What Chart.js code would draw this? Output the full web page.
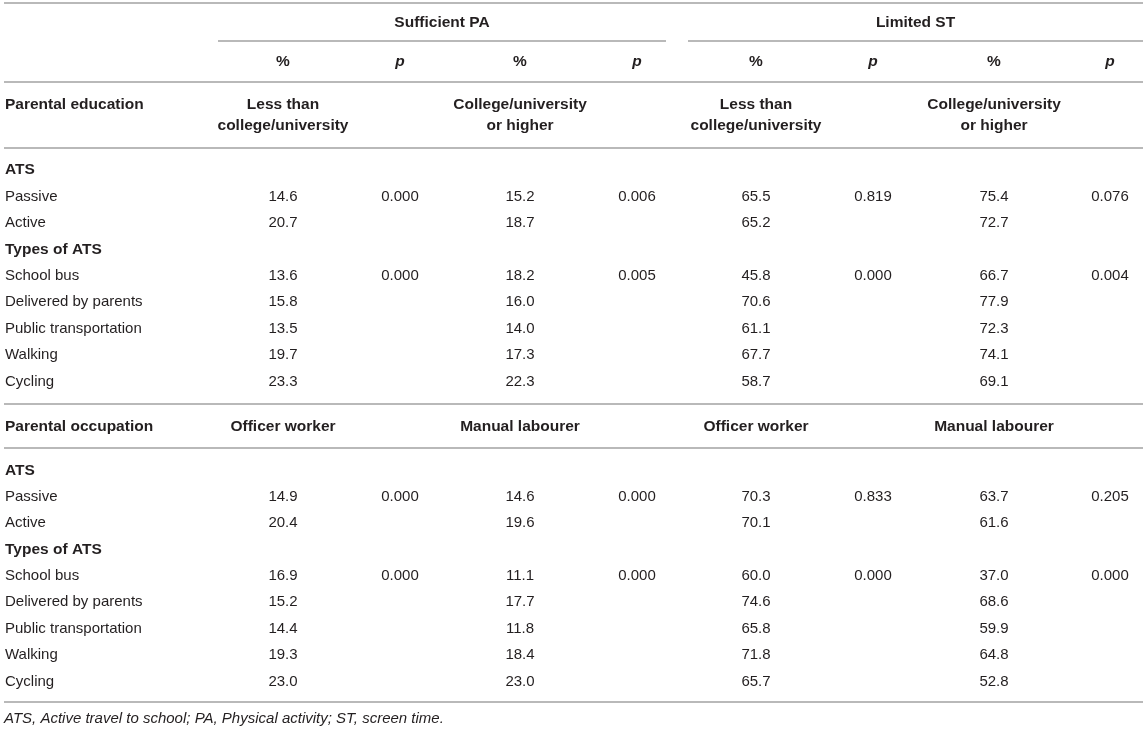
<!DOCTYPE html>
<html><head><meta charset="utf-8">
<script src="https://cdn.jsdelivr.net/npm/chart.js@4.4.1/dist/chart.umd.min.js"></script>
<style>html,body{margin:0;padding:0;background:#fff;overflow:hidden}#wrap{width:1146px;height:732px;position:relative}</style>
</head><body><div id="wrap"><canvas id="c"></canvas></div>
<script>
// ---------- DATA ----------
const outcomes = ['Sufficient PA', 'Limited ST'];
const colHeads = ['%', 'p', '%', 'p', '%', 'p', '%', 'p'];
const rowLabels = ['ATS', 'Passive', 'Active', 'Types of ATS', 'School bus', 'Delivered by parents', 'Public transportation', 'Walking', 'Cycling'];
const headingRows = ['ATS', 'Types of ATS'];
const sections = ['Parental education', 'Parental occupation'];
const eduGroups = ['Less than\ncollege/university', 'College/university\nor higher'];
const occGroups = ['Officer worker', 'Manual labourer'];
const footnote = 'ATS, Active travel to school; PA, Physical activity; ST, screen time.';

// Parental education
const paEduLow   = [null, 14.6, 20.7, null, 13.6, 15.8, 13.5, 19.7, 23.3];
const paEduLowP  = [null, 0.000, null, null, 0.000, null, null, null, null];
const paEduHigh  = [null, 15.2, 18.7, null, 18.2, 16.0, 14.0, 17.3, 22.3];
const paEduHighP = [null, 0.006, null, null, 0.005, null, null, null, null];
const stEduLow   = [null, 65.5, 65.2, null, 45.8, 70.6, 61.1, 67.7, 58.7];
const stEduLowP  = [null, 0.819, null, null, 0.000, null, null, null, null];
const stEduHigh  = [null, 75.4, 72.7, null, 66.7, 77.9, 72.3, 74.1, 69.1];
const stEduHighP = [null, 0.076, null, null, 0.004, null, null, null, null];

// Parental occupation
const paOccOff   = [null, 14.9, 20.4, null, 16.9, 15.2, 14.4, 19.3, 23.0];
const paOccOffP  = [null, 0.000, null, null, 0.000, null, null, null, null];
const paOccMan   = [null, 14.6, 19.6, null, 11.1, 17.7, 11.8, 18.4, 23.0];
const paOccManP  = [null, 0.000, null, null, 0.000, null, null, null, null];
const stOccOff   = [null, 70.3, 70.1, null, 60.0, 74.6, 65.8, 71.8, 65.7];
const stOccOffP  = [null, 0.833, null, null, 0.000, null, null, null, null];
const stOccMan   = [null, 63.7, 61.6, null, 37.0, 68.6, 59.9, 64.8, 52.8];
const stOccManP  = [null, 0.205, null, null, 0.000, null, null, null, null];

// ---------- LAYOUT ----------
const W = 1146, H = 732;
const colX = [283, 400, 520, 637, 756, 873, 994, 1110];
const outcomeSpan = [[218, 666], [688, 1143]];
const titleY = 23, headY = 62;
const sectionY = [105, 427];
const rowY = [[170, 197, 223, 250, 276, 302, 329, 355, 382],
              [471, 497, 523, 550, 576, 602, 629, 655, 682]];
const rules = [{y: 3, x0: 4, x1: 1143}, {y: 82, x0: 4, x1: 1143}, {y: 148, x0: 4, x1: 1143},
               {y: 404, x0: 4, x1: 1143}, {y: 448, x0: 4, x1: 1143}, {y: 702, x0: 4, x1: 1143}];
const footY = 719;
const FONT = "'Liberation Sans', Arial, Helvetica, sans-serif";
const BOLD = 'bold 15.5px ';
const TXT = '#231f20';
const RULE = '#b9b9b9';

const sectionCols = [
  [paEduLow, paEduLowP, paEduHigh, paEduHighP, stEduLow, stEduLowP, stEduHigh, stEduHighP],
  [paOccOff, paOccOffP, paOccMan, paOccManP, stOccOff, stOccOffP, stOccMan, stOccManP]
];

const datasets = [];
sectionCols.forEach((cols, s) => {
  cols.forEach((arr, c) => {
    const isP = c % 2 === 1;
    const pts = [];
    arr.forEach((v, r) => {
      if (v === null) return;
      pts.push({x: colX[c], y: rowY[s][r], t: isP ? v.toFixed(3) : v.toFixed(1)});
    });
    datasets.push({data: pts, pointRadius: 0, pointHoverRadius: 0, showLine: false, clip: false});
  });
});

const cellText = {
  id: 'cellText',
  afterDatasetsDraw(chart) {
    const ctx = chart.ctx;
    ctx.save();
    ctx.fillStyle = TXT;
    ctx.font = '15px ' + FONT;
    ctx.textAlign = 'center';
    ctx.textBaseline = 'middle';
    chart.data.datasets.forEach((ds, i) => {
      chart.getDatasetMeta(i).data.forEach((el, j) => {
        ctx.fillText(ds.data[j].t, el.x, el.y);
      });
    });
    ctx.restore();
  }
};

const tableFrame = {
  id: 'tableFrame',
  beforeDatasetsDraw(chart) {
    const ctx = chart.ctx, xs = chart.scales.x, ys = chart.scales.y;
    const X = v => xs.getPixelForValue(v), Y = v => ys.getPixelForValue(v);
    ctx.save();
    ctx.strokeStyle = RULE;
    ctx.lineWidth = 2;
    rules.forEach(r => { ctx.beginPath(); ctx.moveTo(X(r.x0), Y(r.y)); ctx.lineTo(X(r.x1), Y(r.y)); ctx.stroke(); });
    outcomeSpan.forEach(sp => { ctx.beginPath(); ctx.moveTo(X(sp[0]), Y(41)); ctx.lineTo(X(sp[1]), Y(41)); ctx.stroke(); });

    ctx.fillStyle = TXT;
    ctx.textBaseline = 'middle';
    ctx.textAlign = 'center';
    ctx.font = BOLD + FONT;
    outcomes.forEach((o, i) => ctx.fillText(o, X((outcomeSpan[i][0] + outcomeSpan[i][1]) / 2), Y(titleY)));
    colHeads.forEach((h, i) => {
      ctx.font = (h === 'p' ? 'italic ' + BOLD : BOLD) + FONT;
      ctx.fillText(h, X(colX[i]), Y(headY));
    });
    // group labels
    ctx.font = BOLD + FONT;
    [eduGroups, occGroups].forEach((groups, s) => {
      for (let k = 0; k < 4; k++) {
        const lines = groups[k % 2].split('\n');
        lines.forEach((ln, li) => ctx.fillText(ln, X(colX[k * 2]), Y(sectionY[s] + li * 21)));
      }
    });
    // section titles & row labels
    ctx.textAlign = 'left';
    sections.forEach((t, s) => {
      ctx.font = BOLD + FONT;
      ctx.fillText(t, X(5), Y(sectionY[s]));
      rowLabels.forEach((lab, r) => {
        ctx.font = (headingRows.includes(lab) ? BOLD : '15px ') + FONT;
        ctx.fillText(lab, X(5), Y(rowY[s][r]));
      });
    });
    ctx.font = 'italic 15px ' + FONT;
    ctx.fillText(footnote, X(4), Y(footY));
    ctx.restore();
  }
};

new Chart(document.getElementById('c'), {
  type: 'scatter',
  data: {datasets},
  options: {
    responsive: true,
    maintainAspectRatio: false,
    animation: false,
    events: [],
    layout: {padding: 0},
    plugins: {legend: {display: false}, tooltip: {enabled: false}},
    scales: {
      x: {type: 'linear', min: 0, max: W, display: false},
      y: {type: 'linear', min: 0, max: H, reverse: true, display: false}
    }
  },
  plugins: [tableFrame, cellText]
});
</script></body></html>
